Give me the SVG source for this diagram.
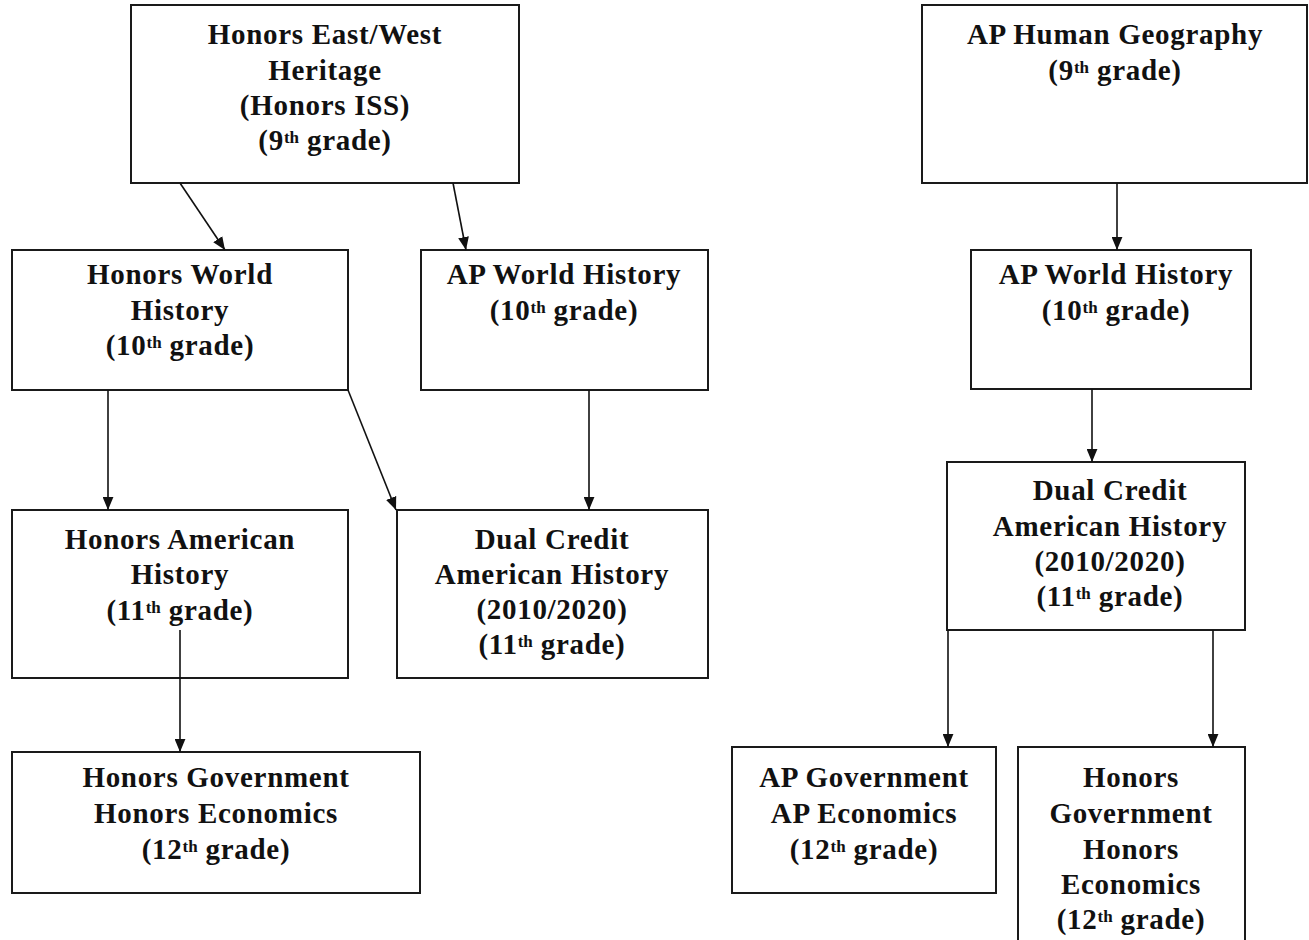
<svg xmlns="http://www.w3.org/2000/svg" width="1309" height="940" viewBox="0 0 1309 940">
<style>
rect{fill:#fff;stroke:#1a1a1a;stroke-width:2}
text{font-family:"Liberation Serif","Times New Roman",serif;font-weight:bold;font-size:29px;letter-spacing:0.7px;fill:#111;text-anchor:middle}
.s{font-size:17px;letter-spacing:0}
.c{stroke:#111;stroke-width:1.6;fill:none;marker-end:url(#ah)}
</style>
<defs>
<marker id="ah" viewBox="0 0 12 10" refX="12" refY="5" markerWidth="13" markerHeight="11" markerUnits="userSpaceOnUse" orient="auto"><path d="M0,0 L12,5 L0,10 z" fill="#111"/></marker>
</defs>
<rect width="1309" height="940" style="fill:#fff;stroke:none"/>
<g id="n1"><rect x="131" y="5" width="388" height="178"/>
<text x="325" y="44">Honors East/West</text><text x="325" y="80">Heritage</text><text x="325" y="115">(Honors ISS)</text><text x="325" y="150">(9<tspan class="s" dy="-7">th</tspan><tspan dy="7"> grade)</tspan></text></g>
<g id="n2"><rect x="922" y="5" width="385" height="178"/>
<text x="1115" y="44">AP Human Geography</text><text x="1115" y="80">(9<tspan class="s" dy="-7">th</tspan><tspan dy="7"> grade)</tspan></text></g>
<g id="n3"><rect x="12" y="250" width="336" height="140"/>
<text x="180" y="284">Honors World</text><text x="180" y="320">History</text><text x="180" y="355">(10<tspan class="s" dy="-7">th</tspan><tspan dy="7"> grade)</tspan></text></g>
<g id="n4"><rect x="421" y="250" width="287" height="140"/>
<text x="564" y="284">AP World History</text><text x="564" y="320">(10<tspan class="s" dy="-7">th</tspan><tspan dy="7"> grade)</tspan></text></g>
<g id="n5"><rect x="971" y="250" width="280" height="139"/>
<text x="1116" y="284">AP World History</text><text x="1116" y="320">(10<tspan class="s" dy="-7">th</tspan><tspan dy="7"> grade)</tspan></text></g>
<g id="n6"><rect x="947" y="462" width="298" height="168"/>
<text x="1110" y="500">Dual Credit</text><text x="1110" y="536">American History</text><text x="1110" y="571">(2010/2020)</text><text x="1110" y="606">(11<tspan class="s" dy="-7">th</tspan><tspan dy="7"> grade)</tspan></text></g>
<g id="n7"><rect x="12" y="510" width="336" height="168"/>
<text x="180" y="549">Honors American</text><text x="180" y="584">History</text><text x="180" y="620">(11<tspan class="s" dy="-7">th</tspan><tspan dy="7"> grade)</tspan></text></g>
<g id="n8"><rect x="397" y="510" width="311" height="168"/>
<text x="552" y="549">Dual Credit</text><text x="552" y="584">American History</text><text x="552" y="619">(2010/2020)</text><text x="552" y="654">(11<tspan class="s" dy="-7">th</tspan><tspan dy="7"> grade)</tspan></text></g>
<g id="n9"><rect x="12" y="752" width="408" height="141"/>
<text x="216" y="787">Honors Government</text><text x="216" y="823">Honors Economics</text><text x="216" y="859">(12<tspan class="s" dy="-7">th</tspan><tspan dy="7"> grade)</tspan></text></g>
<g id="n10"><rect x="732" y="747" width="264" height="146"/>
<text x="864" y="787">AP Government</text><text x="864" y="823">AP Economics</text><text x="864" y="859">(12<tspan class="s" dy="-7">th</tspan><tspan dy="7"> grade)</tspan></text></g>
<g id="n11"><rect x="1018" y="747" width="227" height="200"/>
<text x="1131" y="787">Honors</text><text x="1131" y="823">Government</text><text x="1131" y="859">Honors</text><text x="1131" y="894">Economics</text><text x="1131" y="929">(12<tspan class="s" dy="-7">th</tspan><tspan dy="7"> grade)</tspan></text></g>
<g id="connectors">
<line class="c" x1="180" y1="183" x2="225" y2="250"/>
<line class="c" x1="453" y1="183" x2="466" y2="250"/>
<line class="c" x1="108" y1="390" x2="108" y2="510"/>
<line class="c" x1="348" y1="390" x2="396" y2="510"/>
<line class="c" x1="589" y1="390" x2="589" y2="510"/>
<line class="c" x1="180" y1="630" x2="180" y2="752"/>
<line class="c" x1="1117" y1="183" x2="1117" y2="250"/>
<line class="c" x1="1092" y1="389" x2="1092" y2="462"/>
<line class="c" x1="948" y1="630" x2="948" y2="747"/>
<line class="c" x1="1213" y1="630" x2="1213" y2="747"/>
</g>
</svg>
